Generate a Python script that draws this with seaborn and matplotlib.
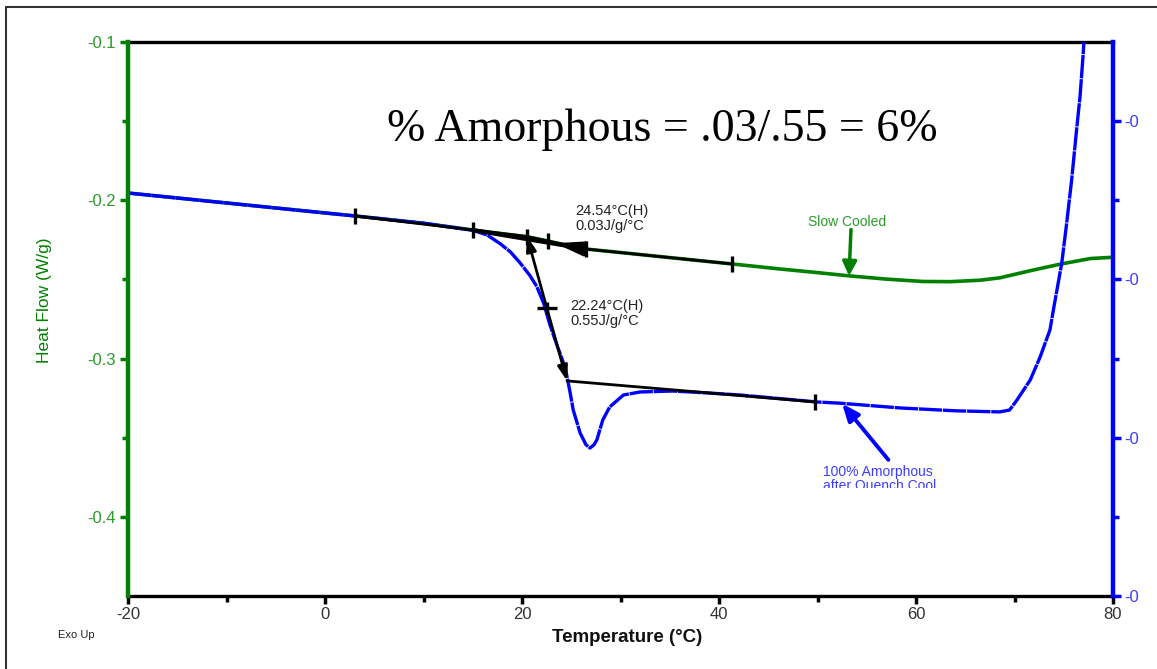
import matplotlib
matplotlib.use('Agg')
import matplotlib.pyplot as plt
import seaborn as sns
import pandas as pd
from matplotlib.lines import Line2D
from matplotlib.transforms import Bbox

# ---------------- data ----------------
slow_T = [-20, -10, 0, 3.05, 10, 15.03, 20.5, 22.6, 24.6, 26.5, 30, 35, 41.3, 46.2,
          50, 53.3, 57, 60.7, 63.5, 66.5, 68.5, 71.6, 74.6, 77.7, 80]
slow_hf = [-0.1954, -0.2017, -0.2080, -0.2099, -0.2145, -0.2188, -0.2230, -0.2257,
           -0.2285, -0.2308, -0.2330, -0.2362, -0.2402, -0.2434, -0.2457, -0.2478,
           -0.2498, -0.2513, -0.2514, -0.2505, -0.2490, -0.2445, -0.2404, -0.2368, -0.2360]

quench_T = [-20, -10, 0, 3.05, 10, 15.03, 16.45, 17.8, 18.8, 19.8, 20.8, 21.5, 22.2,
            22.8, 23.55, 24.4, 24.9, 25.2, 25.9, 26.5, 26.9, 27.3, 27.6, 28.2, 28.9,
            30.3, 32.0, 35.3, 38.8, 42.1, 45.5, 49.9, 52.3, 58.4, 64.0, 68.5, 69.5,
            70.25, 71.6, 72.6, 73.6, 74.0, 74.8, 75.3, 75.8, 76.3, 76.65, 76.95, 77.05, 77.3]
quench_hf = [-0.1954, -0.2017, -0.2080, -0.2099, -0.2145, -0.2190, -0.2219, -0.2275,
             -0.2325, -0.2395, -0.2475, -0.2545, -0.2650, -0.2780, -0.2915, -0.3060,
             -0.3220, -0.3325, -0.3470, -0.3545, -0.3565, -0.3545, -0.3514, -0.3388,
             -0.3306, -0.3230, -0.3211, -0.3205, -0.3217, -0.3230, -0.3249, -0.3274,
             -0.3282, -0.3312, -0.3330, -0.3337, -0.3325, -0.3262, -0.3135, -0.2990,
             -0.2819, -0.2674, -0.2396, -0.2143, -0.1872, -0.1556, -0.1347, -0.1095,
             -0.1000, -0.0800]

# analysis constructions (Tg step analysis)
slow_base_T = [3.05, 15.03, 20.5, 22.6, 26.5, 41.3]
slow_base_hf = [-0.2099, -0.2188, -0.2229, -0.2257, -0.2308, -0.2402]
slow_step_T = [15.03, 26.5]
slow_step_hf = [-0.2188, -0.2308]
limit_T = [3.05, 15.03, 20.5, 22.6, 26.5, 41.3, 49.75]
limit_hf = [-0.2099, -0.2188, -0.2229, -0.2257, -0.2308, -0.2402, -0.3274]
slow_arrow_from = (26.3, -0.2306)
slow_arrow_to = (23.35, -0.2271)
quench_step_T = [20.5, 24.57]
quench_step_hf = [-0.2226, -0.3141]
quench_lower_T = [24.57, 49.75]
quench_lower_hf = [-0.3141, -0.3274]
quench_mid = (22.55, -0.2683)

x_ticks = [-20, 0, 20, 40, 60, 80]
x_tick_labels = ['-20', '0', '20', '40', '60', '80']
x_minor = [-10, 10, 30, 50, 70]
y_ticks = [-0.1, -0.2, -0.3, -0.4]
y_tick_labels = ['-0.1', '-0.2', '-0.3', '-0.4']
y_minor = [-0.15, -0.25, -0.35]
y2_ticks = [-0.15, -0.25, -0.35, -0.45]
y2_tick_labels = ['-0', '-0', '-0', '-0']
y2_minor = [-0.2, -0.3, -0.4]

GREEN = '#008000'
GREEN_T = '#2a9a2a'
BLUE = '#0000ff'
BLUE_T = '#3c3cff'

# ---------------- figure ----------------
sns.set_theme(style='white')
plt.rcParams['font.family'] = ['Liberation Sans', 'DejaVu Sans']

W, H = 1157, 669
fig = plt.figure(figsize=(W / 100, H / 100), dpi=100)
fig.patch.set_facecolor('white')
ax = fig.add_axes([128 / W, 1 - 596 / H, (1113 - 128) / W, (596 - 42) / H])
ax.set_facecolor('white')

df_slow = pd.DataFrame({'T': slow_T, 'hf': slow_hf})
df_quench = pd.DataFrame({'T': quench_T, 'hf': quench_hf})

sns.lineplot(data=df_slow, x='T', y='hf', ax=ax, color=GREEN, lw=2.6,
             estimator=None, sort=False, zorder=3)
sns.lineplot(data=df_quench, x='T', y='hf', ax=ax, color=BLUE, lw=2.4,
             estimator=None, sort=False, zorder=4, linestyle=(0, (7, 0.25)))

ax.set_xlim(-20, 80)
ax.set_ylim(-0.45, -0.1)
ax.set_xlabel('')
ax.set_ylabel('')

# analysis lines
ax.plot(slow_base_T, slow_base_hf, color='black', lw=2.0, zorder=5, solid_capstyle='butt')
ax.plot(slow_step_T, slow_step_hf, color='black', lw=3.0, zorder=5)
ax.plot(quench_lower_T, quench_lower_hf, color='black', lw=2.0, zorder=5)
ax.annotate('', xy=(quench_step_T[0], quench_step_hf[0]),
            xytext=(quench_step_T[1], quench_step_hf[1]),
            arrowprops=dict(arrowstyle='<|-|>,head_length=0.6,head_width=0.2',
                            mutation_scale=15, color='black', lw=2.0,
                            shrinkA=0, shrinkB=0), zorder=6)
ax.annotate('', xy=slow_arrow_to, xytext=slow_arrow_from,
            arrowprops=dict(arrowstyle='-|>,head_length=1.2,head_width=0.3',
                            mutation_scale=15, color='black', lw=2.0,
                            shrinkA=0, shrinkB=0), zorder=6)
ax.plot(limit_T, limit_hf, linestyle='none', marker='|', markersize=11,
        mew=2.4, color='black', zorder=6)
ax.plot([quench_mid[0]], [quench_mid[1]], linestyle='none', marker='_',
        markersize=15, mew=2.4, color='black', zorder=6)
ax.plot([quench_mid[0]], [quench_mid[1]], linestyle='none', marker='|',
        markersize=9, mew=2.4, color='black', zorder=6)

# annotations
ax.text(25.4, -0.2025, '24.54°C(H)\n0.03J/g/°C', fontsize=10.5, color='#222222',
        va='top', ha='left', linespacing=1.05, zorder=7)
ax.text(24.87, -0.2625, '22.24°C(H)\n0.55J/g/°C', fontsize=10.5, color='#222222',
        va='top', ha='left', linespacing=1.05, zorder=7)
ax.text(49.04, -0.2095, 'Slow Cooled', fontsize=10, color=GREEN_T,
        va='top', ha='left', zorder=7)
ax.annotate('', xy=(53.2, -0.2478), xytext=(53.4, -0.2185),
            arrowprops=dict(arrowstyle='-|>,head_length=0.5,head_width=0.25',
                            mutation_scale=17, color=GREEN, lw=2.5,
                            shrinkA=0, shrinkB=0), zorder=7)
t_blue = ax.text(50.56, -0.3674, '100% Amorphous\nafter Quench Cool', fontsize=10,
                 color=BLUE_T, va='top', ha='left', linespacing=1.0, zorder=7)
t_blue.set_clip_box(Bbox([[0, H - 488], [W, H]]))
t_blue.set_clip_on(True)
ax.annotate('', xy=(52.5, -0.3285), xytext=(57.2, -0.3640),
            arrowprops=dict(arrowstyle='-|>,head_length=0.6,head_width=0.25',
                            mutation_scale=17, color=BLUE, lw=2.8,
                            shrinkA=0, shrinkB=0), zorder=7)
ax.text(34.2, -0.1625, '% Amorphous = .03/.55 = 6%', fontsize=33,
        family=['Liberation Serif', 'DejaVu Serif'], color='black',
        ha='center', va='baseline', zorder=7)

# axes styling
ax.set_xticks(x_ticks)
ax.set_xticklabels(x_tick_labels)
ax.set_xticks(x_minor, minor=True)
ax.set_yticks(y_ticks)
ax.set_yticklabels(y_tick_labels)
ax.set_yticks(y_minor, minor=True)
ax.tick_params(axis='x', which='major', direction='out', length=6, width=2.5,
               color='black', labelcolor='#333333', labelsize=12, pad=2,
               bottom=True, top=False)
ax.tick_params(axis='x', which='minor', direction='out', length=4, width=2.5,
               color='black', bottom=True, top=False)
ax.tick_params(axis='y', which='major', direction='out', length=6, width=2.5,
               color=GREEN, labelcolor=GREEN_T, labelsize=12, pad=3,
               left=True, right=False)
ax.tick_params(axis='y', which='minor', direction='out', length=4, width=2.5,
               color=GREEN, left=True, right=False)
for side in ['top', 'bottom']:
    ax.spines[side].set_color('black')
    ax.spines[side].set_linewidth(2.4)
ax.spines['left'].set_color(GREEN)
ax.spines['left'].set_linewidth(3.2)
ax.spines['right'].set_visible(False)
ax.spines['left'].set_zorder(8)

ax2 = ax.twinx()
ax2.set_ylim(-0.45, -0.1)
ax2.set_yticks(y2_ticks)
ax2.set_yticklabels(y2_tick_labels)
ax2.set_yticks(y2_minor, minor=True)
ax2.tick_params(axis='y', which='major', direction='out', length=6, width=2.5,
                color=BLUE, labelcolor=BLUE_T, labelsize=12, pad=2, right=True, left=False)
ax2.tick_params(axis='y', which='minor', direction='out', length=4, width=2.5,
                color=BLUE, right=True, left=False)
for side in ['top', 'bottom', 'left']:
    ax2.spines[side].set_visible(False)
ax2.spines['right'].set_color(BLUE)
ax2.spines['right'].set_linewidth(3.2)
ax2.grid(False)
ax.grid(False)

# labels placed in figure space
fig.text(45 / W, 1 - 300 / H, 'Heat Flow (W/g)', rotation=90, color=GREEN,
         fontsize=12.5, ha='center', va='center')
fig.text(627 / W, 1 - 637 / H, 'Temperature (°C)', color='#111111',
         fontsize=13.5, fontweight='bold', ha='center', va='center')
fig.text(58 / W, 1 - 635 / H, 'Exo Up', color='#222222', fontsize=8,
         ha='left', va='center')

# outer frame
fig.add_artist(Line2D([6 / W, 6 / W], [0, 1 - 7 / H], transform=fig.transFigure,
                      color='#333333', lw=1.5))
fig.add_artist(Line2D([6 / W, 1], [1 - 7 / H, 1 - 7 / H], transform=fig.transFigure,
                      color='#333333', lw=1.5))

fig.savefig('out.png', dpi=100)
